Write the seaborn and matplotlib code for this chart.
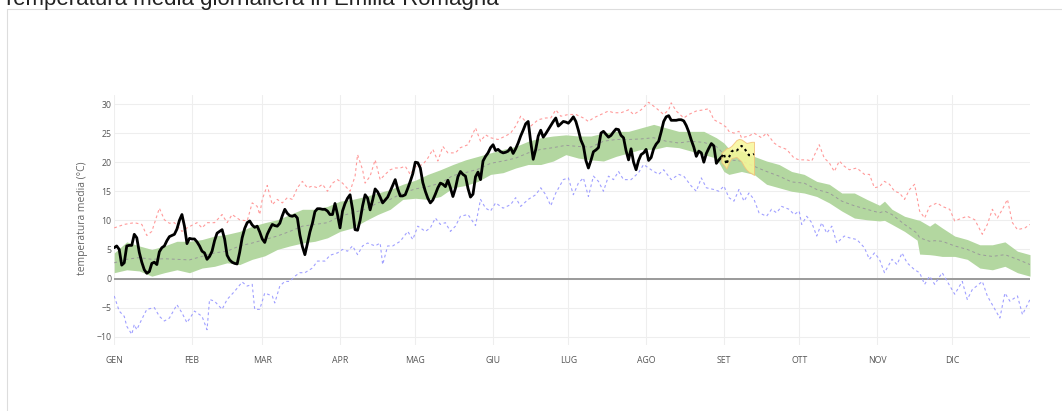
import matplotlib
matplotlib.use("Agg")
import matplotlib.pyplot as plt
import pandas as pd
import seaborn as sns
from matplotlib.lines import Line2D

# ---- axis labels -------------------------------------------------------
month_labels = ["GEN", "FEB", "MAR", "APR", "MAG", "GIU",
                "LUG", "AGO", "SET", "OTT", "NOV", "DIC"]
month_start = [0, 31, 59, 90, 120, 151, 181, 212, 243, 273, 304, 334]
y_ticks = [-10, -5, 0, 5, 10, 15, 20, 25, 30]

# ---- observed daily mean temperature (day 0 = 1 Jan) --------------------
obs_temp = [
    5.3, 5.6, 5.0, 2.3, 2.7, 5.6, 5.7, 5.7, 7.6, 7.0,
    4.5, 2.8, 1.5, 0.9, 1.2, 2.6, 2.8, 2.4, 4.6, 5.3,
    5.6, 6.5, 7.2, 7.4, 7.6, 8.5, 10.0, 11.0, 9.0, 6.0,
    6.9, 6.8, 6.8, 6.3, 5.6, 4.7, 4.4, 3.3, 3.8, 4.7,
    6.5, 7.8, 8.1, 8.4, 6.8, 4.0, 3.2, 2.8, 2.6, 2.5,
    4.5, 7.0, 8.6, 9.6, 9.9, 9.2, 8.8, 9.0, 8.0, 6.8,
    6.2, 7.6, 8.5, 9.3, 9.1, 9.0, 9.5, 10.8, 11.9, 11.2,
    10.8, 10.7, 10.9, 10.4, 7.5, 5.5, 4.1, 6.0, 8.0, 9.5,
    11.5, 12.0, 12.0, 11.9, 11.9, 11.6, 11.0, 11.0, 12.9, 11.0,
    8.7, 11.6, 12.9, 13.8, 14.4, 11.9, 8.4, 8.3, 10.0, 12.5,
    14.4, 13.8, 11.8, 13.5, 15.4, 14.9, 14.0, 13.0, 13.5, 14.0,
    15.0, 16.0, 17.0, 15.4, 14.2, 14.2, 14.4, 15.5, 16.7, 18.0,
    20.0, 19.9, 19.0, 16.5, 15.0, 13.8, 13.0, 13.5, 14.5, 15.6,
    16.4, 16.2, 15.8, 16.9, 15.6, 14.1, 15.5, 17.5, 18.4, 17.9,
    17.6, 15.5, 14.0, 14.5, 17.5, 18.3, 17.0, 20.2, 21.0, 21.6,
    22.5, 23.0, 22.0, 22.2, 21.8, 21.6, 21.7, 21.9, 22.5, 21.5,
    22.3, 23.3, 24.5, 25.5, 26.6, 27.0, 23.5, 20.5, 22.2, 24.5,
    25.5, 24.3, 24.9, 25.6, 26.3, 27.0, 27.6, 26.2, 26.6, 27.0,
    26.9, 26.7, 27.2, 27.8, 27.0, 25.5, 23.8, 22.8, 20.3, 19.0,
    20.3, 21.8, 22.1, 22.5, 25.0, 25.3, 24.8, 24.3, 24.6, 25.2,
    25.7, 25.6, 24.6, 24.2, 22.0, 20.4, 22.3, 20.0, 18.7, 20.3,
    21.3, 21.6, 22.2, 20.3, 20.8, 22.3, 23.1, 23.6, 25.2, 27.0,
    27.8, 28.0, 27.2, 27.2, 27.2, 27.3, 27.3, 27.1, 26.3, 25.2,
    23.8, 22.6, 21.0, 21.9, 21.6, 20.0, 21.5, 22.4, 23.2, 22.8,
    19.8, 20.4, 20.9,
]

# ---- forecast ----------------------------------------------------------
fc_day = [242, 243, 244, 245, 246, 247, 248, 249, 250, 251, 252, 253, 254, 255]
fc_temp = [20.9, 21.5, 19.6, 20.8, 21.8, 22.1, 22.0, 22.3, 22.8, 22.5,
           21.8, 21.2, 21.2, 21.4]
fc_low = [20.0, 19.5, 18.9, 20.0, 20.7, 20.8, 20.9, 20.5, 20.1, 19.3,
          18.7, 18.3, 18.1, 17.8]
fc_high = [21.6, 22.0, 22.4, 22.5, 22.8, 23.3, 23.8, 24.0, 23.9, 23.6,
           23.3, 23.4, 23.5, 23.5]

# ---- climatology: percentile band and median ----------------------------
clim_day = [0, 5, 10, 15, 20, 25, 30, 35, 40, 45, 50, 55, 60, 65, 70, 75,
            80, 85, 90, 95, 100, 105, 110, 115, 120, 125, 130, 135, 140,
            145, 150, 155, 160, 165, 170, 175, 180, 185, 190, 195, 200,
            205, 210, 215, 220, 225, 230, 235, 240, 243, 245, 250, 255,
            260, 265, 270, 275, 280, 285, 290, 295, 300, 305, 307, 310,
            315, 320, 321, 325, 327, 330, 335, 340, 345, 350, 355, 360, 365]
clim_low = [1.0, 1.5, 1.3, 0.4, 1.0, 1.5, 1.0, 1.8, 2.1, 2.7, 2.4, 3.3,
            3.9, 5.0, 5.6, 6.1, 6.4, 7.0, 8.1, 8.7, 9.9, 11.0, 11.9, 13.6,
            13.8, 13.6, 14.1, 15.6, 16.0, 16.7, 17.9, 18.2, 19.0, 19.6,
            19.6, 20.2, 21.3, 20.7, 20.4, 20.2, 21.0, 21.6, 22.2, 22.2,
            22.7, 22.5, 21.9, 21.3, 20.7, 18.4, 17.9, 18.4, 17.9, 16.2,
            15.6, 15.0, 14.7, 14.1, 13.0, 11.6, 10.4, 10.1, 9.9, 10.0,
            9.3, 8.1, 6.6, 4.2, 4.1, 4.0, 3.8, 3.8, 3.3, 1.8, 1.5, 2.1,
            1.0, 0.4]
clim_high = [4.4, 6.3, 5.6, 5.0, 5.6, 6.4, 6.4, 6.7, 7.3, 7.6, 8.1, 9.0,
             9.6, 10.1, 11.0, 11.9, 11.9, 12.4, 13.3, 13.6, 14.1, 14.7,
             15.3, 16.2, 16.9, 17.9, 18.7, 19.6, 20.4, 21.0, 21.6, 22.2,
             22.7, 23.6, 24.2, 24.5, 24.7, 24.5, 24.5, 25.0, 25.3, 25.3,
             25.9, 26.5, 25.9, 25.3, 25.3, 25.3, 24.2, 23.3, 22.3, 21.9,
             21.0, 20.2, 19.6, 18.4, 17.9, 16.7, 16.2, 14.7, 14.7, 13.6,
             12.6, 13.3, 11.9, 10.7, 10.1, 10.0, 9.0, 9.6, 8.7, 7.3, 6.7,
             5.8, 5.8, 6.3, 4.7, 4.1]
clim_median = [2.7, 3.3, 3.6, 3.3, 3.4, 3.3, 3.2, 3.8, 4.4, 4.7, 5.6, 6.1,
               6.7, 7.3, 8.1, 9.0, 9.3, 9.6, 10.7, 11.3, 11.9, 13.0, 13.6,
               14.7, 15.4, 15.8, 16.4, 17.7, 18.2, 18.8, 19.8, 20.2, 20.7,
               21.6, 22.2, 22.5, 22.9, 22.7, 22.6, 23.6, 23.9, 23.9, 24.0,
               24.2, 23.6, 23.3, 23.6, 23.4, 22.7, 21.4, 20.4, 20.2, 19.3,
               18.4, 17.6, 16.6, 16.4, 15.3, 14.7, 13.3, 12.5, 11.9, 11.3,
               11.6, 11.0, 9.3, 7.8, 7.0, 6.4, 6.5, 6.4, 5.6, 5.0, 4.1,
               3.8, 4.1, 3.3, 2.4]

# ---- record maximum of the daily mean ----------------------------------
rec_max_day = [0, 4, 8, 11, 13, 15, 18, 20, 22, 24, 27, 29, 33, 35, 37, 40,
               43, 45, 47, 50, 53, 55, 57, 58, 59, 61, 63, 65, 67, 69, 71,
               73, 75, 77, 79, 81, 83, 85, 87, 89, 91, 94, 96, 97, 99, 100,
               102, 104, 106, 108, 110, 112, 114, 116, 118, 120, 123, 125,
               127, 129, 131, 133, 136, 138, 141, 144, 146, 148, 150, 153,
               156, 158, 160, 162, 164, 166, 169, 172, 174, 176, 178, 181,
               184, 187, 189, 191, 194, 197, 199, 202, 205, 207, 210, 213,
               216, 219, 221, 222, 224, 227, 229, 232, 235, 237, 239, 242,
               244, 245, 247, 249, 250, 253, 255, 258, 260, 263, 265, 268,
               271, 273, 276, 278, 281, 283, 285, 287, 289, 291, 293, 296,
               299, 301, 303, 305, 307, 309, 311, 313, 315, 317, 319, 321,
               323, 325, 328, 330, 333, 335, 338, 340, 343, 346, 348, 350,
               352, 354, 356, 358, 360, 363, 365]
rec_max = [8.7, 9.3, 9.6, 9.3, 7.4, 8.1, 12.1, 10.1, 9.5, 9.6, 8.1, 8.7,
           9.6, 8.7, 9.6, 9.6, 11.0, 9.6, 11.0, 10.1, 9.9, 13.0, 12.4, 11.0,
           13.6, 16.0, 12.7, 13.6, 13.0, 13.9, 13.6, 15.6, 16.7, 15.6, 15.9,
           15.6, 16.2, 15.0, 16.4, 17.0, 16.4, 15.0, 17.6, 21.3, 18.7, 16.4,
           17.6, 20.4, 17.0, 17.9, 18.7, 19.0, 19.0, 19.3, 17.9, 19.2, 19.6,
           20.7, 22.2, 20.2, 22.7, 21.6, 21.6, 22.5, 23.0, 25.9, 23.6, 24.7,
           24.2, 23.9, 24.5, 25.0, 26.2, 27.9, 27.0, 26.2, 27.3, 27.6, 27.6,
           29.0, 27.9, 28.2, 28.2, 27.6, 27.0, 27.6, 28.2, 28.8, 28.5, 28.5,
           29.0, 28.2, 29.0, 30.3, 29.3, 28.2, 29.0, 30.2, 28.8, 27.6, 28.2,
           28.8, 29.0, 29.2, 27.3, 26.6, 26.0, 25.3, 25.0, 25.3, 24.2, 24.5,
           25.0, 24.2, 25.0, 23.3, 22.7, 22.2, 20.7, 20.4, 20.4, 20.2, 23.0,
           20.7, 19.9, 18.4, 20.2, 19.3, 18.7, 19.0, 17.9, 17.9, 15.6, 15.8,
           16.7, 16.2, 15.0, 14.7, 13.6, 15.3, 16.2, 11.6, 10.4, 12.4, 13.0,
           12.4, 11.9, 9.9, 10.4, 10.7, 10.1, 7.6, 9.3, 11.9, 10.4, 11.9,
           13.6, 9.6, 8.4, 8.7, 9.3]

# ---- record minimum of the daily mean ----------------------------------
rec_min_day = [0, 2, 4, 5, 7, 8, 9, 11, 13, 16, 18, 20, 22, 25, 27, 29, 32,
               35, 37, 38, 40, 43, 45, 48, 51, 53, 55, 56, 58, 60, 63, 64,
               66, 68, 70, 72, 74, 76, 79, 81, 84, 86, 89, 91, 93, 95, 97,
               99, 101, 104, 106, 107, 109, 111, 114, 117, 119, 121, 124,
               126, 128, 130, 132, 134, 136, 138, 141, 144, 146, 148, 150,
               152, 155, 158, 160, 162, 165, 168, 170, 172, 174, 176, 179,
               181, 183, 185, 187, 189, 191, 193, 195, 197, 199, 201, 203,
               206, 209, 211, 214, 217, 219, 222, 225, 227, 230, 232, 234,
               236, 239, 241, 243, 245, 247, 249, 251, 253, 255, 257, 260,
               262, 264, 266, 269, 271, 273, 274, 276, 278, 280, 282, 284,
               286, 288, 291, 293, 296, 299, 301, 303, 305, 307, 310, 312,
               314, 316, 319, 321, 323, 325, 327, 330, 332, 335, 338, 340,
               342, 346, 348, 351, 353, 355, 357, 360, 362, 365]
rec_min = [-3.0, -5.6, -6.5, -8.2, -9.6, -7.9, -8.8, -7.0, -5.3, -5.0, -6.5,
           -7.3, -6.8, -4.5, -5.9, -7.6, -5.6, -6.5, -8.8, -3.6, -3.9, -5.3,
           -3.6, -2.2, -0.6, -1.3, -1.0, -5.3, -5.3, -2.5, -3.0, -4.2, -1.3,
           -0.5, -0.5, 0.4, 1.0, 1.0, 1.8, 3.0, 3.0, 4.0, 4.4, 5.0, 4.7, 5.6,
           4.1, 5.6, 6.1, 5.6, 6.1, 2.4, 5.6, 5.6, 6.4, 8.1, 6.7, 9.0, 8.1,
           8.7, 10.4, 9.3, 9.6, 8.1, 9.0, 10.7, 11.0, 9.1, 13.6, 12.1, 11.6,
           13.0, 12.1, 12.7, 13.9, 12.4, 13.6, 14.4, 15.6, 14.4, 12.5, 14.7,
           17.0, 17.3, 14.4, 16.4, 17.3, 14.1, 17.6, 16.7, 15.0, 17.6, 17.0,
           18.4, 17.0, 17.0, 18.2, 19.6, 18.7, 17.9, 18.7, 17.0, 17.9, 17.6,
           15.9, 15.0, 17.3, 15.6, 15.3, 15.0, 15.9, 13.9, 13.3, 15.3, 13.3,
           14.7, 13.6, 11.3, 10.7, 11.9, 11.3, 12.4, 11.9, 11.0, 11.6, 9.3,
           10.7, 9.6, 7.3, 9.6, 7.8, 9.0, 6.1, 7.3, 7.0, 6.7, 5.3, 3.3, 4.4,
           3.3, 1.0, 3.3, 2.4, 4.4, 2.7, 1.5, 1.0, -1.0, 0.4, -1.0, 1.0, -0.5,
           -2.7, -0.5, -3.6, -1.9, -0.5, -3.0, -5.3, -6.8, -2.5, -3.9, -3.0,
           -6.2, -3.6]

obs = pd.DataFrame({"giorno": range(len(obs_temp)), "temp": obs_temp})
fc = pd.DataFrame({"giorno": fc_day, "temp": fc_temp})
clim = pd.DataFrame({"giorno": clim_day, "mediana": clim_median})
rmax = pd.DataFrame({"giorno": rec_max_day, "temp": rec_max})
rmin = pd.DataFrame({"giorno": rec_min_day, "temp": rec_min})

W, H = 1062, 411
sns.set_theme(style="white")
plt.rcParams["font.family"] = ["Open Sans", "DejaVu Sans"]

fig = plt.figure(figsize=(W / 100, H / 100), dpi=100)
fig.patch.set_facecolor("white")

# plot area in pixel terms: x 114..1030, y 95..345 (from the top)
ax = fig.add_axes([114.2 / W, 1 - 345 / H, (1030 - 114.2) / W, 250 / H])
ax.set_facecolor("white")
ax.set_xlim(0, 365)
ax.set_ylim(-11.43, 31.55)

ax.set_xticks(month_start)
ax.set_xticklabels(month_labels)
ax.set_yticks(y_ticks)
ax.set_yticklabels([f"{v}".replace("-", "\u2212") for v in y_ticks])
ax.grid(True, color="#eeeeee", linewidth=0.8)
ax.set_axisbelow(True)
for s in ax.spines.values():
    s.set_visible(False)
ax.tick_params(axis="both", length=0, labelsize=6.3, labelcolor="#555555")
ax.tick_params(axis="x", pad=8)
ax.tick_params(axis="y", pad=2)

ax.axhline(0, color="#9a9a9a", linewidth=1.4, zorder=1)

# climatological band and median
ax.fill_between(clim_day, clim_low, clim_high, color="#b3d7a0",
                linewidth=0, zorder=2)
sns.lineplot(data=clim, x="giorno", y="mediana", ax=ax, color="#9a9a9a",
             linewidth=0.7, linestyle=(0, (3, 3)), zorder=3)

# records
sns.lineplot(data=rmax, x="giorno", y="temp", ax=ax, color="#ff9a9a",
             linewidth=0.8, linestyle=(0, (2.5, 2.5)), zorder=3)
sns.lineplot(data=rmin, x="giorno", y="temp", ax=ax, color="#a0a0ff",
             linewidth=0.8, linestyle=(0, (2.5, 2.5)), zorder=3)

# observed series
sns.lineplot(data=obs, x="giorno", y="temp", ax=ax, color="black",
             linewidth=2.0, zorder=5)

# forecast band and forecast line
ax.fill_between(fc_day, fc_low, fc_high, facecolor="#f7f79a",
                edgecolor="#f2c27a", linewidth=0.7, alpha=0.85, zorder=6)
sns.lineplot(data=fc, x="giorno", y="temp", ax=ax, color="black",
             linewidth=1.5, linestyle=(0, (1.2, 1.6)), zorder=7)

ax.set_xlabel("")
ax.set_ylabel("")
fig.text(83 / W, 1 - 218 / H, "temperatura media (\u00b0C)", rotation=90,
         ha="center", va="center", fontsize=7.4, color="#666666")

# outer frame of the chart box
frame_kw = dict(color="#dddddd", linewidth=0.8, transform=fig.transFigure)
fig.add_artist(Line2D([7 / W, 7 / W], [0, 1 - 9 / H], **frame_kw))
fig.add_artist(Line2D([7 / W, 1], [1 - 9 / H, 1 - 9 / H], **frame_kw))

fig.text(2 / W, 1 - 5 / H, "Temperatura media giornaliera in Emilia-Romagna",
         fontsize=16, family=["Liberation Sans", "DejaVu Sans"],
         ha="left", va="baseline", color="#222222")

fig.savefig("out.png", dpi=100)
